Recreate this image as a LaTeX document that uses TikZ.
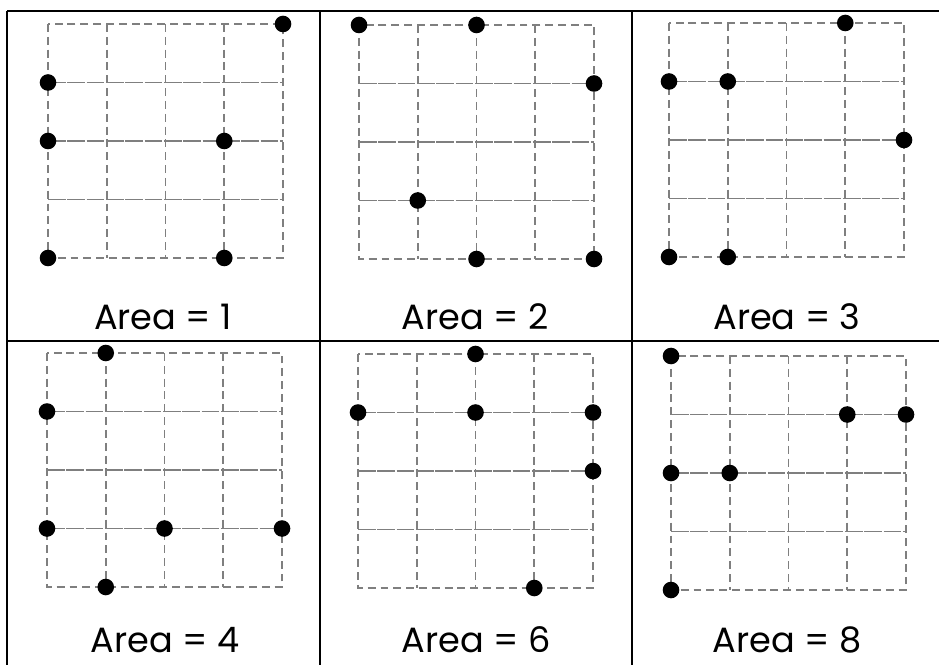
\documentclass[tikz,border=0pt]{standalone}
\usepackage{fontspec}
\setmainfont{Poppins}
\definecolor{GridGray}{HTML}{7F7F7F}
\tikzset{
  tableline/.style={black,line width=0.8pt},
  gridline/.style={GridGray,line width=1.1pt,dash pattern=on 4.5pt off 2.8pt},
  rowline/.style={GridGray,line width=1.1pt,dash pattern=on 10pt off 1pt},
  lattdot/.style={black},
  arealabel/.style={anchor=base,inner sep=0pt,font=\fontsize{20}{24}\selectfont}
}

\begin{document}
\begin{tikzpicture}[x=0.02cm,y=-0.02cm]
  \useasboundingbox (0,0) rectangle (939,665);

  % table rules
  \draw[tableline] (7,11) -- (939,11);
  \draw[tableline] (7,341) -- (939,341);
  \draw[tableline] (7,11) -- (7,665);
  \draw[tableline] (320,11) -- (320,665);
  \draw[tableline] (632,11) -- (632,665);

  % lattice grids and their points
  \foreach \gx/\gy/\pts in {48/24/{0/1,0/2,3/2,0/4,3/4,4/0},
    359/25/{0/0,2/0,4/1,1/3,2/4,4/4},
    669/23/{0/1,1/1,3/0,4/2,0/4,1/4},
    47/353/{1/0,0/1,0/3,2/3,4/3,1/4},
    358/354/{2/0,0/1,2/1,4/1,4/2,3/4},
    671/356/{0/0,3/1,4/1,0/2,1/2,0/4}}{
    \draw[gridline] (\gx,\gy) rectangle ++(235,234);
    \foreach \k in {1,2,3}{
      \draw[gridline] ({\gx+58.75*\k},\gy) -- ++(0,234);
      \draw[rowline] (\gx,{\gy+58.5*\k}) -- ++(235,0);
    }
    \foreach \i/\j in \pts{
      \fill[lattdot] ({\gx+58.75*\i},{\gy+58.5*\j}) circle[radius=8.3];
    }
  }

  % captions
  \node[arealabel] (lbl1) at (163,330) {Area = 1};
  \node[arealabel] (lbl2) at (475,330) {Area = 2};
  \node[arealabel] (lbl3) at (787,330) {Area = 3};
  \node[arealabel] (lbl4) at (165,652) {Area = 4};
  \node[arealabel] (lbl6) at (476,652) {Area = 6};
  \node[arealabel] (lbl8) at (787,652) {Area = 8};
\end{tikzpicture}
\end{document}
